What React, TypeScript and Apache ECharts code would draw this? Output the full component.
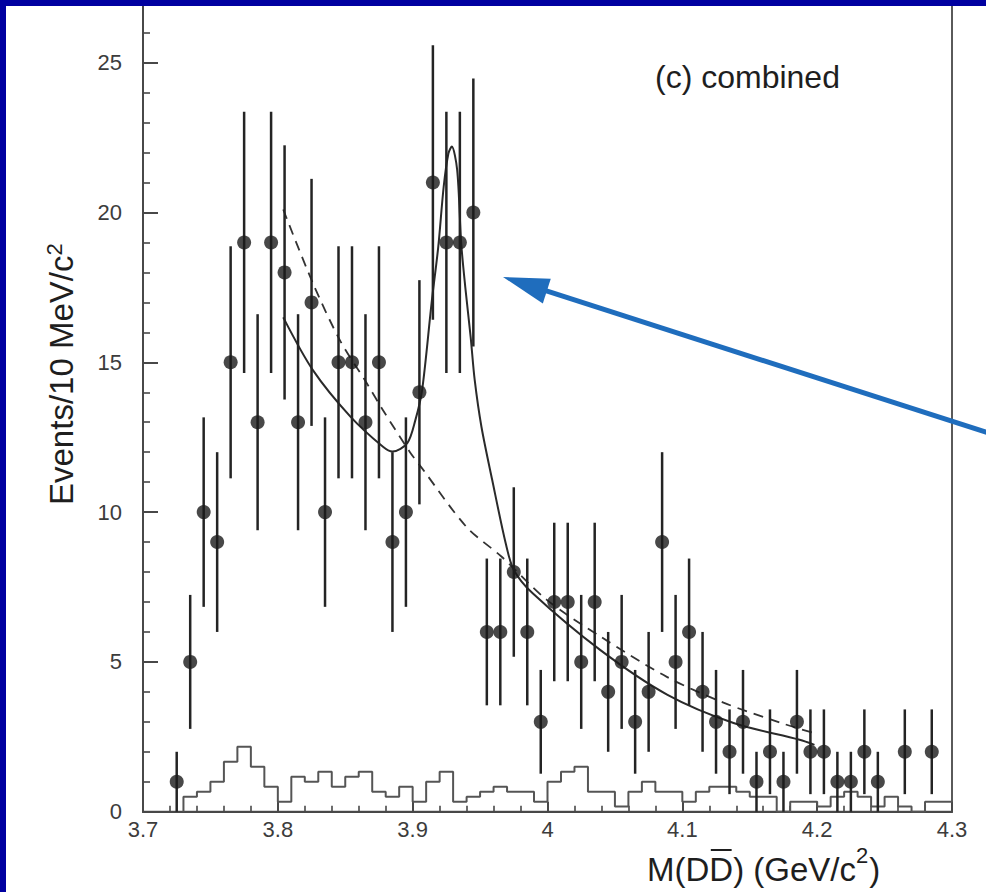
import { useEffect, useRef } from "react";
import * as echarts from "echarts";

const FONT = "'Liberation Sans', Arial, Helvetica, sans-serif";

// D Dbar invariant mass: bin centres (GeV/c^2) and events per 10 MeV/c^2
const massBins = [
  3.725, 3.735, 3.745, 3.755, 3.765, 3.775, 3.785, 3.795, 3.805, 3.815,
  3.825, 3.835, 3.845, 3.855, 3.865, 3.875, 3.885, 3.895, 3.905, 3.915,
  3.925, 3.935, 3.945, 3.955, 3.965, 3.975, 3.985, 3.995, 4.005, 4.015,
  4.025, 4.035, 4.045, 4.055, 4.065, 4.075, 4.085, 4.095, 4.105, 4.115,
  4.125, 4.135, 4.145, 4.155, 4.165, 4.175, 4.185, 4.195, 4.205, 4.215,
  4.225, 4.235, 4.245, 4.255, 4.265, 4.275, 4.285,
];
const eventCounts: (number | null)[] = [
  1, 5, 10, 9, 15, 19, 13, 19, 18, 13,
  17, 10, 15, 15, 13, 15, 9, 10, 14, 21,
  19, 19, 20, 6, 6, 8, 6, 3, 7, 7,
  5, 7, 4, 5, 3, 4, 9, 5, 6, 4,
  3, 2, 3, 1, 2, 1, 3, 2, 2, 1,
  1, 2, 1, null, 2, null, 2,
];

// scaled sideband histogram: lower bin edges and contents
const sidebandEdges = [
  3.73, 3.74, 3.75, 3.76, 3.77, 3.78, 3.79, 3.8, 3.81, 3.82,
  3.83, 3.84, 3.85, 3.86, 3.87, 3.88, 3.89, 3.9, 3.91, 3.92,
  3.93, 3.94, 3.95, 3.96, 3.97, 3.98, 3.99, 4.0, 4.01, 4.02,
  4.03, 4.04, 4.05, 4.06, 4.07, 4.08, 4.09, 4.1, 4.11, 4.12,
  4.13, 4.14, 4.15, 4.16, 4.17, 4.18, 4.19, 4.2, 4.21, 4.22,
  4.23, 4.24, 4.25, 4.26, 4.27, 4.28, 4.29,
];
const sidebandCounts = [
  0.5, 0.67, 1.0, 1.67, 2.17, 1.5, 0.83, 0.33, 1.17, 1.0,
  1.33, 0.83, 1.17, 1.33, 0.67, 0.5, 0.83, 0.33, 1.0, 1.33,
  0.33, 0.5, 0.67, 0.83, 0.67, 0.67, 0.33, 1.0, 1.33, 1.5,
  0.67, 0.67, 0.17, 0.67, 1.0, 0.67, 0.67, 0.33, 0.67, 0.83,
  0.83, 0.67, 0.5, 0.5, 0, 0.33, 0.33, 0.17, 0.5, 0.67,
  0.5, 0.17, 0.5, 0.17, 0, 0.33, 0.33,
];
const sidebandLastEdge = 4.3;

// total fit (signal + background), solid curve
const fitMass = [
  3.804, 3.826, 3.854, 3.878, 3.885, 3.896, 3.902, 3.907, 3.914, 3.919,
  3.923, 3.9265, 3.929, 3.933, 3.936, 3.939, 3.943, 3.946, 3.951, 3.959,
  3.969, 3.975, 3.989, 4.039, 4.089, 4.138, 4.187, 4.198,
];
const fitValue = [
  16.5, 14.74, 13.18, 12.18, 12.02, 12.3, 13.07, 14.07, 16.97, 18.86,
  20.86, 21.97, 22.2, 21.42, 18.97, 17.52, 15.85, 14.41, 12.85, 11.07,
  8.96, 8.07, 7.29, 5.4, 3.9, 2.96, 2.4, 2.23,
];

// background-only fit, dashed curve
const bkgMass = [
  3.804, 3.826, 3.846, 3.866, 3.878, 3.898, 3.907, 3.94, 3.966, 3.9995,
  4.0395, 4.0885, 4.13, 4.174, 4.198,
];
const bkgValue = [
  20.1, 17.64, 15.74, 14.3, 13.4, 12.0, 11.46, 9.5, 8.51, 7.07,
  5.84, 4.5, 3.65, 2.95, 2.62,
];

// axis ranges
const xRange = [3.7, 4.3];
const xStep = 0.1;
const yRange = [0, 30];
const yStep = 5;
const yLabelMax = 25;

function textWidth(s: string, size: number): number {
  const ctx = document.createElement("canvas").getContext("2d");
  if (!ctx) return s.length * size * 0.55;
  ctx.font = `${size}px ${FONT}`;
  return ctx.measureText(s).width;
}

function txt(text: string, x: number, y: number, size: number, fill: string) {
  return {
    type: "text",
    x,
    y,
    silent: true,
    style: {
      text,
      font: `${size}px ${FONT}`,
      fill,
      align: "left",
      verticalAlign: "middle",
    },
  };
}

export default function App() {
  const ref = useRef<HTMLDivElement>(null);

  useEffect(() => {
    if (!ref.current) return;
    const chart = echarts.init(ref.current, null, { renderer: "svg" });

    const points: number[][] = [];
    const errBars: number[][] = [];
    massBins.forEach((m, i) => {
      const n = eventCounts[i];
      if (n === null || n === undefined) return;
      points.push([m, n]);
      const e = Math.sqrt(n); // Poisson uncertainty
      errBars.push([m, Math.max(0, n - e), n + e]);
    });

    const hist: number[][] = [[sidebandEdges[0], 0]];
    sidebandEdges.forEach((edge, i) => hist.push([edge, sidebandCounts[i]]));
    hist.push([sidebandLastEdge, sidebandCounts[sidebandCounts.length - 1]]);

    const fitData = fitMass.map((m, i) => [m, fitValue[i]]);
    const bkgData = bkgMass.map((m, i) => [m, bkgValue[i]]);

    const ink = "#1e1e1e";
    const axisInk = "#484848";

    // x-axis title pieces: M(D Dbar) (GeV/c^2)
    const xs = 33;
    const xSup = 22;
    const xBase = 881.5;
    const x0 = 647;
    const wA = textWidth("M(D", xs);
    const wB = textWidth("D", xs);
    const wC = textWidth(") (GeV/c", xs);
    const wS = textWidth("2", xSup);
    const xMid = xBase - 0.35 * xs;
    const supMid = 863.3 - 0.35 * xSup;

    // y-axis title pieces
    const ys = 33;
    const ySup = 22;
    const wY = textWidth("Events/10 MeV/c", ys);

    // annotation arrow
    const tip = [503, 277];
    const tail = [992, 434];
    const dx = tip[0] - tail[0];
    const dy = tip[1] - tail[1];
    const len = Math.hypot(dx, dy);
    const ux = dx / len;
    const uy = dy / len;
    const headLen = 46;
    const headHalf = 13;
    const bx = tip[0] - ux * headLen;
    const by = tip[1] - uy * headLen;
    const nx = -uy;
    const ny = ux;
    const arrowColor = "#1f6dbd";

    chart.setOption({
      animation: false,
      backgroundColor: "#ffffff",
      grid: {
        left: 143,
        right: 34,
        top: -87.1,
        bottom: 80.3,
        show: true,
        borderColor: "#5a5a5a",
        borderWidth: 2,
        outerBoundsMode: "none",
        containLabel: false,
      },
      xAxis: {
        type: "value",
        min: xRange[0],
        max: xRange[1],
        interval: xStep,
        splitLine: { show: false },
        axisLine: { lineStyle: { color: axisInk, width: 2 } },
        axisTick: { inside: true, length: 10, lineStyle: { color: axisInk, width: 2 } },
        minorTick: { show: true, splitNumber: 5, length: 6, lineStyle: { color: axisInk, width: 1.6 } },
        axisLabel: {
          margin: 7,
          fontFamily: FONT,
          fontSize: 22,
          color: "#3c3c3c",
          showMinLabel: true,
          showMaxLabel: true,
          formatter: (v: number) => String(Math.round(v * 10) / 10),
        },
      },
      yAxis: {
        type: "value",
        min: yRange[0],
        max: yRange[1],
        interval: yStep,
        splitLine: { show: false },
        axisLine: { lineStyle: { color: axisInk, width: 2 } },
        axisTick: { inside: true, length: 15, lineStyle: { color: axisInk, width: 2 } },
        minorTick: { show: true, splitNumber: 5, length: 7, lineStyle: { color: axisInk, width: 1.6 } },
        axisLabel: {
          margin: 21,
          fontFamily: FONT,
          fontSize: 22,
          color: "#3c3c3c",
          formatter: (v: number) => (v <= yLabelMax ? String(v) : ""),
        },
      },
      series: [
        {
          type: "line",
          data: hist,
          step: "end",
          symbol: "none",
          lineStyle: { color: "#555555", width: 2 },
          z: 2,
        },
        {
          type: "line",
          data: bkgData,
          smooth: 0.3,
          symbol: "none",
          lineStyle: { color: "#333333", width: 1.8, type: [10, 7] },
          z: 3,
        },
        {
          type: "line",
          data: fitData,
          smooth: 0.3,
          symbol: "none",
          lineStyle: { color: "#2a2a2a", width: 2 },
          z: 3,
        },
        {
          type: "custom",
          data: errBars,
          encode: { x: 0, y: [1, 2] },
          z: 4,
          renderItem: (_params: any, api: any) => {
            const m = api.value(0);
            const lo = api.coord([m, api.value(1)]);
            const hi = api.coord([m, api.value(2)]);
            return {
              type: "line",
              shape: { x1: lo[0], y1: lo[1], x2: hi[0], y2: hi[1] },
              style: { stroke: "#242424", lineWidth: 2.5 },
            };
          },
        },
        {
          type: "scatter",
          data: points,
          symbol: "circle",
          symbolSize: 14,
          itemStyle: { color: "#1a1a1a" },
          z: 5,
        },
      ],
      graphic: [
        // panel label
        txt("(c) combined", 655, 88.3 - 0.35 * 32, 32, ink),
        // x-axis title
        {
          type: "group",
          silent: true,
          children: [
            txt("M(D", x0, xMid, xs, ink),
            txt("D", x0 + wA, xMid, xs, ink),
            txt(") (GeV/c", x0 + wA + wB, xMid, xs, ink),
            txt("2", x0 + wA + wB + wC, supMid, xSup, ink),
            txt(")", x0 + wA + wB + wC + wS + 1, xMid, xs, ink),
            {
              type: "line",
              shape: { x1: x0 + wA + 1.5, y1: 850, x2: x0 + wA + wB - 1.5, y2: 850 },
              style: { stroke: ink, lineWidth: 2 },
            },
          ],
        },
        // y-axis title, reading upwards
        {
          type: "group",
          x: 73.3,
          y: 505,
          rotation: Math.PI / 2,
          silent: true,
          children: [
            txt("Events/10 MeV/c", 0, -0.35 * ys, ys, ink),
            txt("2", wY, -11.6 - 0.35 * ySup, ySup, ink),
          ],
        },
        // arrow
        {
          type: "line",
          silent: true,
          z: 50,
          shape: { x1: tail[0], y1: tail[1], x2: bx + ux * 2, y2: by + uy * 2 },
          style: { stroke: arrowColor, lineWidth: 5 },
        },
        {
          type: "polygon",
          silent: true,
          z: 50,
          shape: {
            points: [
              [tip[0], tip[1]],
              [bx + nx * headHalf, by + ny * headHalf],
              [bx - nx * headHalf, by - ny * headHalf],
            ],
          },
          style: { fill: arrowColor },
        },
        // slide frame
        {
          type: "rect",
          silent: true,
          z: 100,
          shape: { x: 0, y: 0, width: 986, height: 6 },
          style: { fill: "#0000a0" },
        },
        {
          type: "rect",
          silent: true,
          z: 100,
          shape: { x: 0, y: 0, width: 6, height: 892 },
          style: { fill: "#0000a0" },
        },
      ],
    });

    return () => chart.dispose();
  }, []);

  return (
    <div
      ref={ref}
      style={{ position: "absolute", left: 0, top: 0, width: 986, height: 892 }}
    />
  );
}
